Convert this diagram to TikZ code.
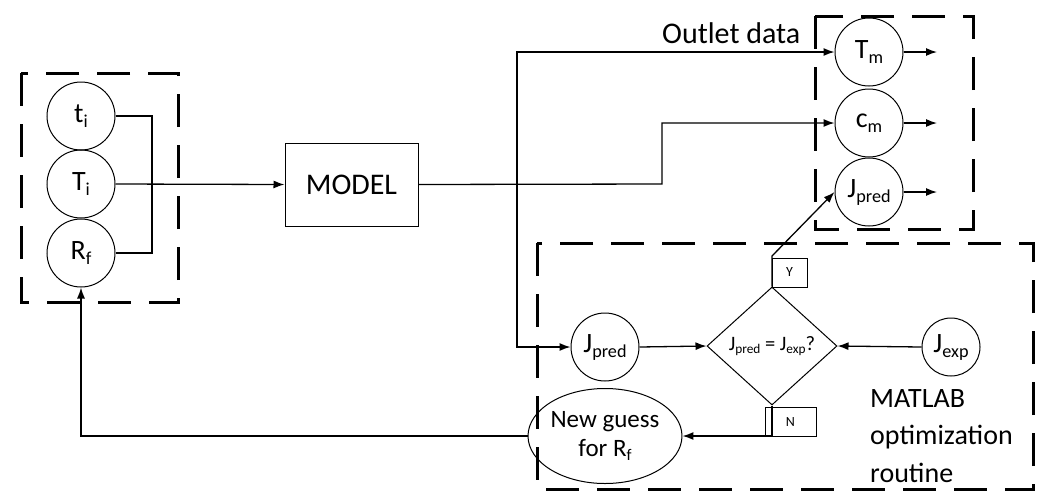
\documentclass[tikz,border=0pt]{standalone}
\usepackage{fontspec}
\setmainfont{Carlito}
\usepackage{graphicx}
\usetikzlibrary{shapes.geometric,arrows.meta}
% lowered, reduced subscript that follows the current font size
\newcommand\sbx[1]{\raisebox{-0.18em}{\scalebox{0.65}{#1}}}
\tikzset{
  line/.style={line width=1.3pt},
  arr/.style={line width=1.3pt,-{Latex[length=11pt,width=8pt]}},
  grp/.style={line width=3pt,dash pattern=on 33pt off 18pt},
  var/.style={circle,draw,line width=1pt,minimum size=68pt,inner sep=0pt,
    font=\fontsize{28}{30}\selectfont},
  block/.style={rectangle,draw,line width=1pt,minimum width=133pt,minimum height=83pt,
    inner sep=0pt,font=\fontsize{30}{34}\selectfont},
  decision/.style={diamond,draw,line width=1pt,minimum width=130pt,minimum height=118pt,
    inner sep=0pt},
  guessbox/.style={ellipse,draw,line width=1pt,minimum width=134pt,minimum height=95pt,
    inner sep=0pt,align=center,font=\fontsize{25}{29}\selectfont},
  tag/.style={rectangle,draw,line width=1pt,inner sep=0pt,font=\fontsize{14}{16}\selectfont},
  caption/.style={font=\fontsize{28}{32}\selectfont,inner sep=0pt},
}
\begin{document}
\begin{tikzpicture}[x=1pt,y=-1pt]
\useasboundingbox (0,0) rectangle (1041,491);

% group frames
\draw[grp] (21,73) rectangle (178,302);
\draw[grp] (815,16) rectangle (973,229);
\draw[grp] (537,243) rectangle (1033,489);

% inputs
\node[var] (ti) at (81,116) {t\sbx{i}};
\node[var] (Ti) at (81,184) {T\sbx{i}};
\node[var] (Rf) at (81,253) {R\sbx{f}};

% model
\node[block] (model) at (351.5,184.5) {MODEL};

% outlet data
\node[var] (Tm) at (869,52) {T\sbx{m}};
\node[var] (cm) at (869,123) {c\sbx{m}};
\node[var] (Jo) at (869,192) {J\sbx{pred}};
\node[caption,font=\fontsize{30}{34}\selectfont,anchor=base west] (otl) at (662,43) {Outlet data};

% optimization loop
\node[var] (Jl) at (605,347) {J\sbx{pred}};
\node[decision] (dec) at (772,346) {};
\node[font=\fontsize{20.5}{24}\selectfont,inner sep=0pt] (deq) at (772,346) {J\sbx{pred} = J\sbx{exp}?};
\node[var,minimum size=58pt] (Je) at (951,347) {J\sbx{exp}};
\node[guessbox] (guess) at (605,436) {New guess\\for R\sbx{f}};
\node[tag,minimum width=35pt,minimum height=29pt] (yb) at (789.5,272.5) {Y};
\node[tag,minimum width=51pt,minimum height=29pt] (nb) at (790.5,421.5) {N};
\node[caption,anchor=base west] (m1) at (870,407) {MATLAB};
\node[caption,anchor=base west] (m2) at (870,444) {optimization};
\node[caption,anchor=base west] (m3) at (870,482) {routine};

% connection points
\coordinate (bx) at (152,184);
\coordinate (sp) at (517,184);
\coordinate (st) at (662,184);
\coordinate (yk) at (772,256);
\coordinate (nk) at (772,436);
\coordinate (fb) at (81,436);
\coordinate (Tmo) at (937,52);
\coordinate (cmo) at (937,123);
\coordinate (Joo) at (937,192);

% inputs into the model
\draw[line] (ti.east) -| (bx) |- (Rf.east);
\draw[arr] (Ti.east) -- (model.west);

% model outputs
\draw[arr] (model.east) -- (st) |- (cm.west);
\draw[arr] (sp) |- (Tm.west);
\draw[arr] (sp) |- (Jl.west);
\draw[arr] (Tm.east) -- (Tmo);
\draw[arr] (cm.east) -- (cmo);
\draw[arr] (Jo.east) -- (Joo);

% comparison
\draw[arr] (Jl.east) -- (dec.west);
\draw[arr] (Je.west) -- (dec.east);
\draw[arr] (dec.north) -- (yk) -- (Jo.west);
\draw[arr] (dec.south) -- (nk) -- (guess.east);
\draw[arr] (guess.west) -- (fb) -- (Rf.south);
\end{tikzpicture}
\end{document}
